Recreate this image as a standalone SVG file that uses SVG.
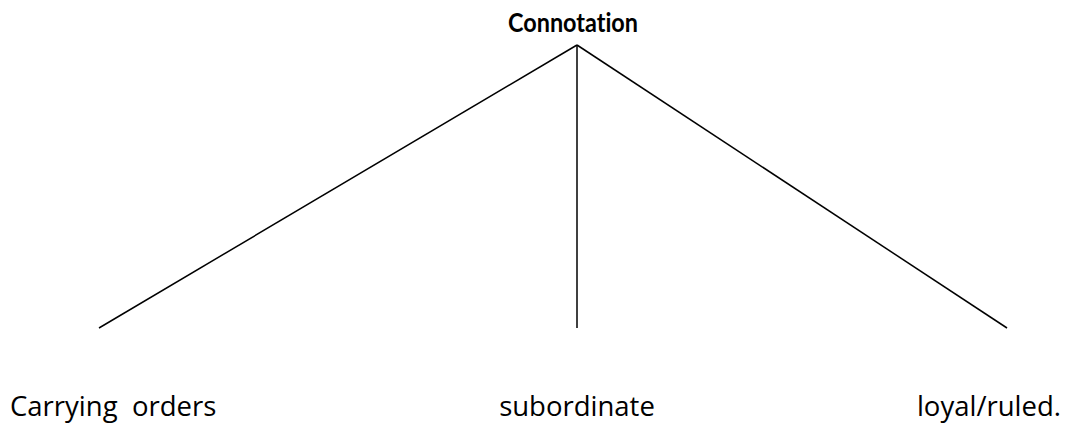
<svg xmlns="http://www.w3.org/2000/svg" width="1066" height="424" viewBox="0 0 1066 424">
<style>
.t{font-family:"Open Sans","Noto Sans","Liberation Sans",sans-serif;font-size:27.5px;fill:#000}
.b{font-family:Lato,"Open Sans",sans-serif;font-weight:bold;font-size:26px;font-variant-ligatures:none}
.c{stroke:#000;stroke-width:1.5;fill:none}
</style>
<rect width="1066" height="424" fill="#fff"/>
<g id="root"><text class="t b" x="508" y="32" textLength="130" lengthAdjust="spacingAndGlyphs">Connotation</text></g>
<g id="connectors">
<line class="c" x1="577" y1="45" x2="99" y2="328"/>
<line class="c" x1="577" y1="45" x2="577" y2="328"/>
<line class="c" x1="577" y1="45" x2="1007" y2="328"/>
</g>
<g id="n1"><text class="t" x="10" y="416" xml:space="preserve">Carrying  orders</text></g>
<g id="n2"><text class="t" x="577" y="416" text-anchor="middle">subordinate</text></g>
<g id="n3"><text class="t" x="1061" y="416" text-anchor="end">loyal/ruled.</text></g>
</svg>
